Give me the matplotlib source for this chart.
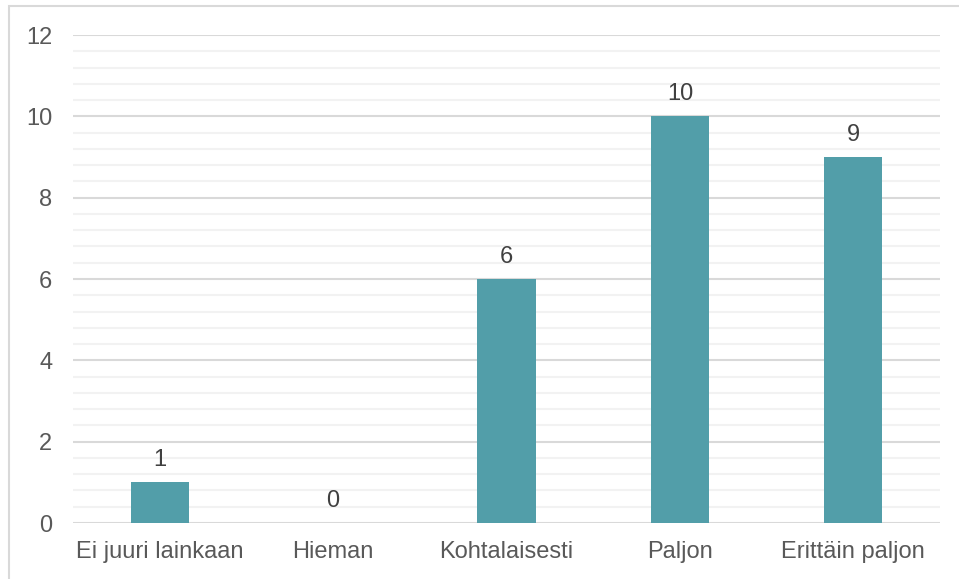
import matplotlib
matplotlib.use("Agg")
import matplotlib.pyplot as plt
from matplotlib.patches import Rectangle
from matplotlib.ticker import MultipleLocator

categories = ["Ei juuri lainkaan", "Hieman", "Kohtalaisesti", "Paljon", "Erittäin paljon"]
values = [1, 0, 6, 10, 9]
y_ticks = [0, 2, 4, 6, 8, 10, 12]

plt.rcParams['font.family'] = ['Liberation Sans', 'DejaVu Sans']

fig = plt.figure(figsize=(9.59, 5.79), dpi=100)
ax = fig.add_axes([73 / 959, 1 - 523 / 579, 867 / 959, 488 / 579])

bar_color = "#529ea9"
text_color = "#595959"

x = range(len(categories))
bars = ax.bar(x, values, width=0.335, color=bar_color, zorder=3)

for xi, v in zip(x, values):
    ax.annotate(str(v), (xi, v), xytext=(0, 8), textcoords="offset points",
                ha="center", va="bottom", fontsize=17, color="#404040")

ax.set_xlim(-0.5, len(categories) - 0.5)
ax.set_ylim(0, 12)
ax.set_yticks(y_ticks)
ax.yaxis.set_minor_locator(MultipleLocator(0.4))
ax.set_xticks(list(x))
ax.set_xticklabels(categories)

ax.grid(axis="y", which="major", color="#d9d9d9", linewidth=1.5, zorder=0)
ax.grid(axis="y", which="minor", color="#f2f2f2", linewidth=1.5, zorder=0)
ax.set_axisbelow(True)

for s in ax.spines.values():
    s.set_visible(False)

ax.tick_params(axis="both", which="both", length=0, labelsize=17, labelcolor=text_color)
ax.tick_params(axis="y", pad=15)
ax.tick_params(axis="x", pad=13)

fig.patches.append(Rectangle((8.5 / 959, -0.1), 1.2, 1.1 - 6 / 579,
                             transform=fig.transFigure, fill=False,
                             edgecolor="#d9d9d9", linewidth=1.5))

fig.savefig("out.png", dpi=100)
